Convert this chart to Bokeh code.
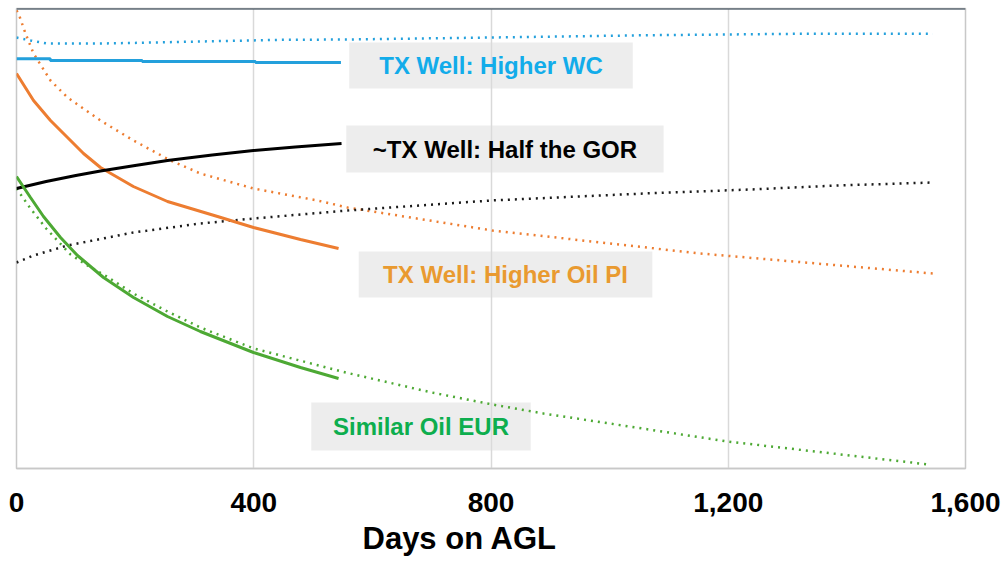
from bokeh.plotting import figure
from bokeh.models import Range1d, FixedTicker, NumeralTickFormatter, Span, Title
from bokeh.core.properties import value
from bokeh.embed import file_html
from bokeh.resources import INLINE

# ---------------- data (days on AGL vs relative rate units) ----------------
# blue dotted: reference well, water cut
wc_ref_days = [0, 24, 51, 142, 209, 332, 450, 558, 800, 1069, 1317, 1545]
wc_ref_vals = [431, 428, 425, 425, 425.7, 427.3, 428.7, 429, 431, 433.3, 434.7, 434.7]
# blue solid: TX well, water cut
wc_tx_days = [0, 57, 57, 212, 212, 403, 403, 547]
wc_tx_vals = [409.7, 409.7, 408, 408, 407, 407, 406, 406]
# orange dotted: reference well, oil PI
pi_ref_days = [0, 3.4, 15.2, 28.7, 57.3, 86, 141.6, 197.3, 259.6, 310, 399.6, 507.5, 558, 802.5, 1153, 1545]
pi_ref_vals = [458, 455, 435, 415, 388, 371, 348, 328, 308, 295, 280, 268, 261, 238, 215, 195]
# orange solid: TX well, oil PI
pi_tx_days = [0, 28.7, 57.3, 86, 113, 141.6, 197, 254.6, 339, 399.6, 478.8, 543]
pi_tx_vals = [395, 368, 348, 331, 315, 301, 282, 267, 252, 241, 229, 220]
# black dotted: reference well, GOR
gor_ref_days = [0, 28.7, 86, 197, 310, 400, 558, 800, 1069, 1237, 1384, 1545]
gor_ref_vals = [206, 213, 223, 236, 245, 250, 258, 268, 275.3, 279, 283, 286]
# black solid: TX well, GOR
gor_tx_days = [0, 50, 100, 141.6, 200, 254.6, 330, 399.6, 470, 548]
gor_tx_vals = [280, 287, 293, 297.5, 303, 308, 313.5, 318, 321.5, 325]
# green dotted: reference well, oil
oil_ref_days = [0, 23.6, 50, 91, 119.7, 146.7, 197, 254.6, 310, 400, 555, 700, 802.5, 888.5, 1000, 1199, 1538]
oil_ref_vals = [280, 260, 240, 214, 203, 194, 175, 157, 141, 120, 96, 76, 64, 55, 45, 27, 4]
# green solid: TX well, oil
oil_tx_days = [0, 23.6, 45.5, 74.2, 102.8, 146.7, 197.3, 254.6, 310, 399.6, 478.8, 543]
oil_tx_vals = [292, 271, 252, 231, 213, 191, 171, 152, 137, 116, 101, 90]

tick_values = [0, 400, 800, 1200, 1600]
label_texts = ["TX Well: Higher WC", "~TX Well: Half the GOR",
               "TX Well: Higher Oil PI", "Similar Oil EUR"]
x_title = "Days on AGL"

# ---------------- layout / style ----------------
box_left = [561, 556, 577, 497]
box_right = [1039, 1091, 1072, 867]
box_bottom = [380, 296, 171, 18]
box_top = [426, 343, 217, 66]
label_colors = ["#12ACEA", "#000000", "#E99A30", "#0DAE4E"]

BLUE = "#23A0DC"
ORANGE = "#ED7D31"
GREEN = "#4DA934"
BLACK = "#000000"
FONT = "Liberation Sans"

p = figure(width=1008, height=561, output_backend="svg", toolbar_location=None,
           x_range=Range1d(0, 1600), y_range=Range1d(0, 460),
           y_axis_location=None, min_border_left=16, min_border_right=43,
           min_border_top=8, min_border_bottom=93)
p.background_fill_color = "white"
p.border_fill_color = "white"
p.outline_line_color = "#C8C8C8"
p.outline_line_width = 1.5

p.ygrid.grid_line_color = None
p.xgrid.grid_line_color = "#D9D9D9"
p.xgrid.grid_line_width = 1.5

ax = p.xaxis[0]
ax.ticker = FixedTicker(ticks=tick_values)
ax.formatter = NumeralTickFormatter(format="0,0")
ax.axis_line_color = "#C8C8C8"
ax.axis_line_width = 1.5
ax.major_tick_line_color = None
ax.minor_tick_line_color = None
ax.major_tick_out = 0
ax.major_tick_in = 0
ax.major_label_standoff = 24
ax.major_label_text_font = FONT
ax.major_label_text_font_style = "bold"
ax.major_label_text_font_size = "28px"
ax.major_label_text_color = "#000000"

# label boxes
cx = [(a + b) / 2 for a, b in zip(box_left, box_right)]
cy = [(a + b) / 2 for a, b in zip(box_bottom, box_top)]
p.quad(left=box_left, right=box_right, bottom=box_bottom, top=box_top,
       fill_color="#DCDCDC", fill_alpha=0.5, line_color=None)

dot = dict(line_width=2.5, line_dash="2 5")
sol = dict(line_width=3)
p.line(wc_ref_days, wc_ref_vals, line_color=BLUE, **dot)
p.line(pi_ref_days, pi_ref_vals, line_color=ORANGE, **dot)
p.line(gor_ref_days, gor_ref_vals, line_color="#1A1A1A", **dot)
p.line(oil_ref_days, oil_ref_vals, line_color=GREEN, **dot)
p.line(wc_tx_days, wc_tx_vals, line_color=BLUE, **sol)
p.line(pi_tx_days, pi_tx_vals, line_color=ORANGE, **sol)
p.line(gor_tx_days, gor_tx_vals, line_color=BLACK, **sol)
p.line(oil_tx_days, oil_tx_vals, line_color=GREEN, **sol)

p.text(x=cx, y=cy, text=label_texts, text_color=label_colors,
       text_font=value(FONT), text_font_style="bold", text_font_size="24px",
       text_align="center", text_baseline="middle")

p.add_layout(Span(location=460, dimension="width", line_color="#243746", line_width=2))

p.add_layout(Title(text=x_title, align="left", offset=346, standoff=8,
                   text_font=FONT, text_font_style="bold", text_font_size="31px",
                   text_color="#000000"), "below")

open("out.html", "w").write(file_html(p, INLINE))
